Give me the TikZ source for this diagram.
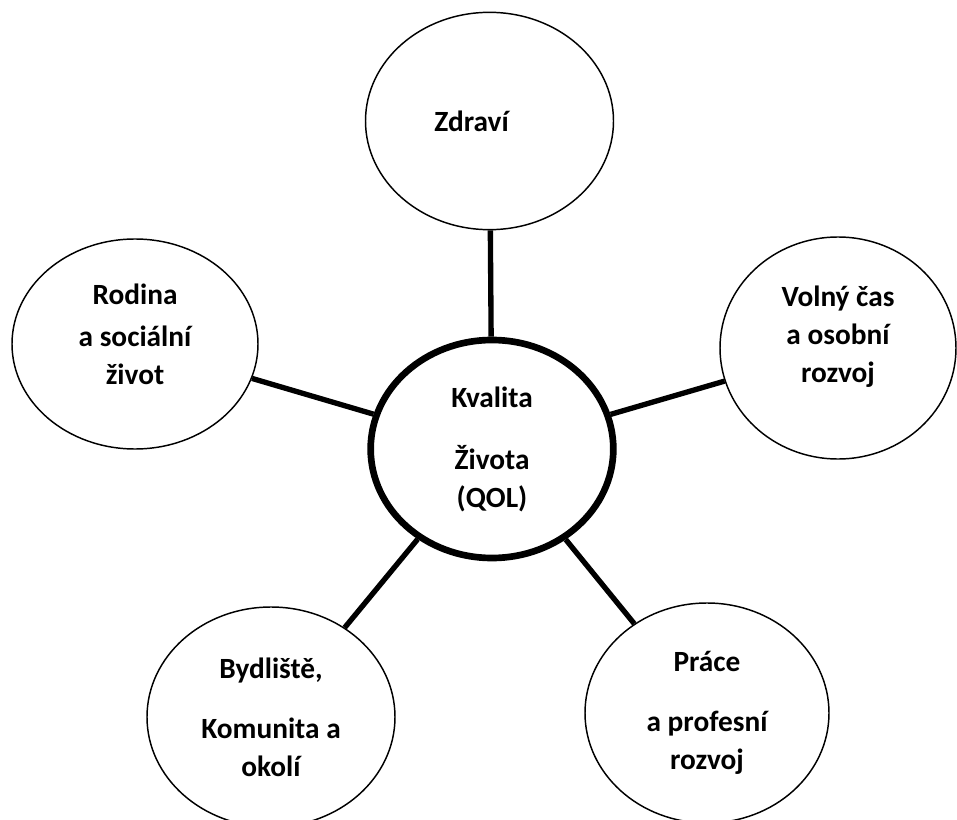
\documentclass[tikz,border=0pt]{standalone}
\usepackage{fontspec}
\setmainfont{Carlito}
\usepackage{tikz}
\usetikzlibrary{shapes.geometric}
\tikzstyle{topic}=[ellipse,draw=black,line width=1.1pt,inner sep=0pt,
minimum width=184pt,minimum height=164pt,align=center,
font=\bfseries\fontsize{22}{28.5}\selectfont]
\tikzstyle{core}=[topic,line width=5pt,minimum width=182pt,minimum height=163.5pt]
\tikzstyle{link}=[line width=4pt]

\begin{document}
\begin{tikzpicture}[x=0.75pt,y=-0.75pt]
        \useasboundingbox (0,0) rectangle (957,820);

        \node (qol) [core] at (492,449) {Kvalita\\[18pt]Života\\(QOL)};
        \node (zdravi) [topic,minimum width=186pt,minimum height=163pt] at (489.5,121) {Zdraví\hspace*{27pt}};
        \node (rodina) [topic,minimum width=184.5pt,minimum height=157.5pt] at (135,344) {Rodina\\[3pt]a sociální\\život\\[-14pt]\mbox{}};
        \node (volny) [topic,minimum width=177pt,minimum height=166.5pt] at (838,348) {Volný čas\\a osobní\\rozvoj\\[-7.5pt]\mbox{}};
        \node (bydliste) [topic,minimum width=186pt,minimum height=165pt] at (271,717) {Bydliště,\\[16.5pt]Komunita a\\okolí};
        \node (prace) [topic,minimum width=183pt,minimum height=165pt] at (707,713) {Práce\\[16.5pt]a profesní\\rozvoj};

        \draw [link] (qol) -- (zdravi);
        \draw [link] (qol) -- (rodina);
        \draw [link] (qol) -- (volny);
        \draw [link] (qol) -- (bydliste);
        \draw [link] (qol) -- (prace);

    \end{tikzpicture}
\end{document}
